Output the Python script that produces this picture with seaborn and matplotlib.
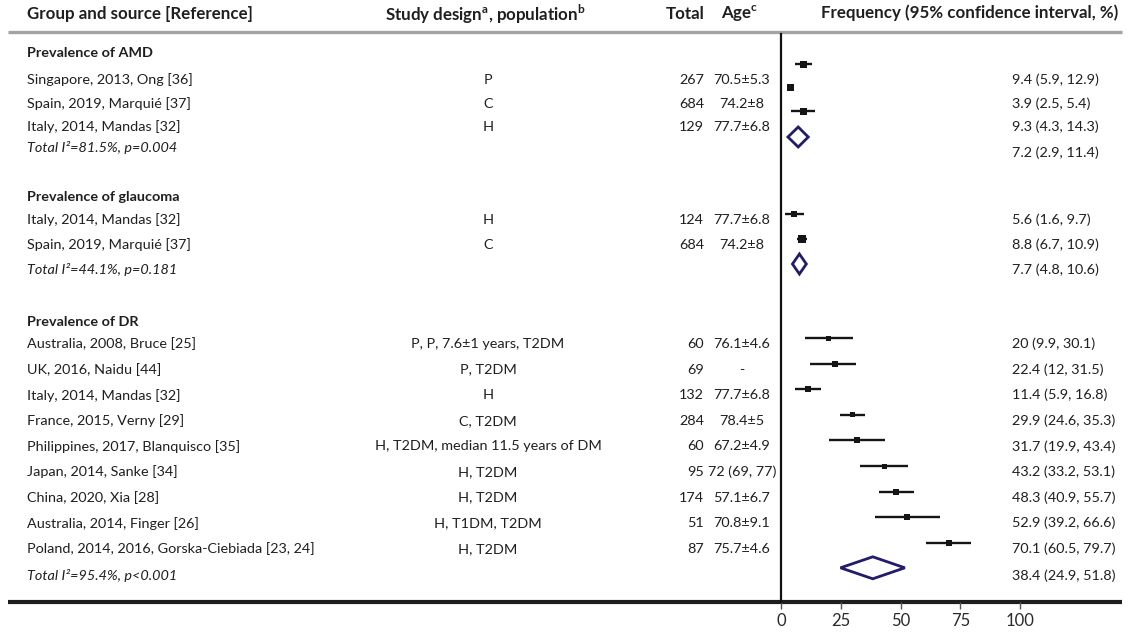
import numpy as np
import pandas as pd
import matplotlib.pyplot as plt
import seaborn as sns
from matplotlib.patches import Polygon

# ---- data ----
group_names = ['Prevalence of AMD', 'Prevalence of glaucoma', 'Prevalence of DR']

sources = [
    'Singapore, 2013, Ong [36]', 'Spain, 2019, Marquié [37]', 'Italy, 2014, Mandas [32]',
    'Italy, 2014, Mandas [32]', 'Spain, 2019, Marquié [37]',
    'Australia, 2008, Bruce [25]', 'UK, 2016, Naidu [44]', 'Italy, 2014, Mandas [32]',
    'France, 2015, Verny [29]', 'Philippines, 2017, Blanquisco [35]', 'Japan, 2014, Sanke [34]',
    'China, 2020, Xia [28]', 'Australia, 2014, Finger [26]',
    'Poland, 2014, 2016, Gorska-Ciebiada [23, 24]',
]
study_group = [0, 0, 0, 1, 1, 2, 2, 2, 2, 2, 2, 2, 2, 2]
designs = ['P', 'C', 'H', 'H', 'C',
           'P, P, 7.6±1 years, T2DM', 'P, T2DM', 'H', 'C, T2DM',
           'H, T2DM, median 11.5 years of DM', 'H, T2DM', 'H, T2DM',
           'H, T1DM, T2DM', 'H, T2DM']
totals = [267, 684, 129, 124, 684, 60, 69, 132, 284, 60, 95, 174, 51, 87]
ages = ['70.5±5.3', '74.2±8', '77.7±6.8', '77.7±6.8', '74.2±8', '76.1±4.6', '-',
        '77.7±6.8', '78.4±5', '67.2±4.9', '72 (69, 77)', '57.1±6.7', '70.8±9.1', '75.7±4.6']
freq = [9.4, 3.9, 9.3, 5.6, 8.8, 20, 22.4, 11.4, 29.9, 31.7, 43.2, 48.3, 52.9, 70.1]
ci_low = [5.9, 2.5, 4.3, 1.6, 6.7, 9.9, 12, 5.9, 24.6, 19.9, 33.2, 40.9, 39.2, 60.5]
ci_high = [12.9, 5.4, 14.3, 9.7, 10.9, 30.1, 31.5, 16.8, 35.3, 43.4, 53.1, 55.7, 66.6, 79.7]

pooled_text = ['Total I²=81.5%, p=0.004', 'Total I²=44.1%, p=0.181', 'Total I²=95.4%, p<0.001']
pooled_freq = [7.2, 7.7, 38.4]
pooled_low = [2.9, 4.8, 24.9]
pooled_high = [11.4, 10.6, 51.8]

ticks = [0, 25, 50, 75, 100]

# ---- layout (pixels, top-down) ----
W, H = 1128, 632
header_y = 14
block_head_y = [53, 197, 322]
block_first_y = [80, 220, 344]
block_step = [23.5, 25, 25.6]
block_total_gap = [21, 25, 27]
forest_shift = [-16, -6, -6]
diamond_shift = [-11, -6, -8]
square_px = [7, 7, 7, 6, 8, 5, 6, 6, 5, 6, 5, 6, 6, 6]

x0_px, px_per_unit = 781, 2.39

df = pd.DataFrame({'source': sources, 'group': study_group, 'design': designs,
                   'total': totals, 'age': ages, 'freq': freq,
                   'lo': ci_low, 'hi': ci_high})
df['row'] = df.groupby('group').cumcount()
df['y'] = [block_first_y[g] + r * block_step[g] for g, r in zip(df['group'], df['row'])]
df['yf'] = df['y'] + [forest_shift[g] for g in df['group']]
total_y = [df.loc[df.group == g, 'y'].max() + block_total_gap[g] for g in range(3)]

sns.set_theme(style='white')
plt.rcParams['font.family'] = ['Lato', 'DejaVu Sans']
plt.rcParams['mathtext.fontset'] = 'custom'
plt.rcParams['mathtext.rm'] = 'Lato'
plt.rcParams['mathtext.bf'] = 'Lato:bold'

fig = plt.figure(figsize=(W / 100, H / 100), dpi=100)
ax_t = fig.add_axes([0, 0, 1, 1])
ax_t.set_xlim(0, W)
ax_t.set_ylim(H, 0)
ax_t.axis('off')

fs = 10.4
txt = dict(color='#1f1f1f', va='center')
hdr = dict(color='#1f1f1f', va='center', fontsize=12.2, fontweight='bold')

# header
ax_t.text(27, header_y, 'Group and source [Reference]', ha='left', **hdr)
ax_t.text(485, header_y, r'Study design$^{\mathbf{a}}$, population$^{\mathbf{b}}$', ha='center', **hdr)
ax_t.text(685, header_y, 'Total', ha='center', **hdr)
ax_t.text(740, header_y, r'Age$^{\mathbf{c}}$', ha='center', **hdr)
ax_t.text(1118, header_y - 1, 'Frequency (95% confidence interval, %)', ha='right', **hdr)
ax_t.plot([8, 1122], [32, 32], color='#a3a3a3', lw=2.4, solid_capstyle='butt')
ax_t.plot([8, 1122], [602, 602], color='#1e1e1e', lw=3, solid_capstyle='butt')

for g in range(3):
    ax_t.text(27, block_head_y[g], group_names[g], ha='left', fontsize=fs, fontweight='bold', **txt)
    ax_t.text(27, total_y[g], pooled_text[g], ha='left', fontsize=fs, style='italic', **txt)
    dy = 5 if g == 0 else 0
    ax_t.text(1012, total_y[g] + dy,
              f'{pooled_freq[g]:g} ({pooled_low[g]:g}, {pooled_high[g]:g})', ha='left',
              fontsize=fs, **txt)

for _, r in df.iterrows():
    ax_t.text(27, r.y, r.source, ha='left', fontsize=fs, **txt)
    ax_t.text(488, r.y, r.design, ha='center', fontsize=fs, **txt)
    ax_t.text(704, r.y, str(r.total), ha='right', fontsize=fs, **txt)
    ax_t.text(742, r.y, r.age, ha='center', fontsize=fs, **txt)
    ax_t.text(1012, r.y, f'{r.freq:g} ({r.lo:g}, {r.hi:g})', ha='left', fontsize=fs, **txt)

# ---- forest panel ----
top_px, bot_px = 34, 602
ax_f = fig.add_axes([x0_px / W, (H - bot_px) / H, (W - 6 - x0_px) / W, (bot_px - top_px) / H])
ax_f.patch.set_alpha(0)
ax_f.set_xlim(0, (W - 6 - x0_px) / px_per_unit)
ax_f.set_ylim(bot_px, top_px)

ax_f.hlines(df['yf'], df['lo'], df['hi'], color='#151515', lw=1.7, clip_on=False)
sizes = [(p * 0.72) ** 2 for p in square_px]
sns.scatterplot(data=df, x='freq', y='yf', marker='s', color='#151515', s=sizes,
                linewidth=0, ax=ax_f, clip_on=False, zorder=3, legend=False)

for g in range(3):
    yc = total_y[g] + diamond_shift[g]
    h = 11 if g == 2 else 10
    dia = Polygon([(pooled_low[g], yc), (pooled_freq[g], yc - h), (pooled_high[g], yc),
                   (pooled_freq[g], yc + h)], closed=True, facecolor='white',
                  edgecolor='#231b6b', lw=2, clip_on=False, zorder=4)
    ax_f.add_patch(dia)

for s in ['top', 'right', 'bottom']:
    ax_f.spines[s].set_visible(False)
ax_f.spines['left'].set_color('#111111')
ax_f.spines['left'].set_linewidth(1.6)
ax_f.set_yticks([])
ax_f.set_xticks(ticks)
ax_f.tick_params(axis='x', bottom=True, direction='out', length=5, width=1,
                 color='#555555', labelsize=12, labelcolor='#2a2a2a', pad=3)
ax_f.set_xlabel('')
ax_f.set_ylabel('')

fig.savefig('out.png', dpi=100)
